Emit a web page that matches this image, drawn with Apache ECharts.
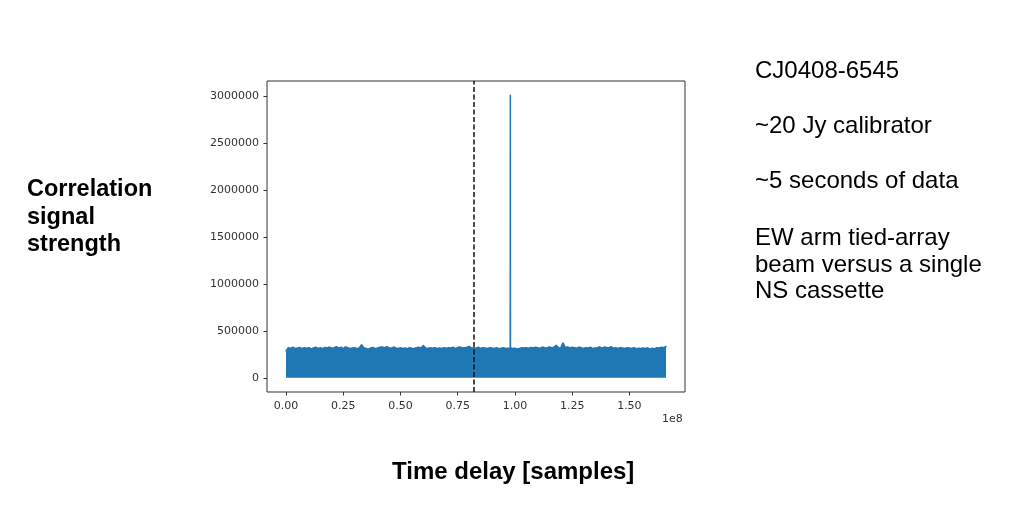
<!DOCTYPE html>
<html>
<head>
<meta charset="utf-8">
<script src="https://cdn.jsdelivr.net/npm/echarts@6/dist/echarts.min.js"></script>
<style>
html,body{margin:0;padding:0;background:#fff;}
#chart{width:1024px;height:512px;}
</style>
</head>
<body>
<div id="chart"></div>
<script>
// Time delay in units of 1e8 samples
var delays = [
0.00,0.01,0.02,0.03,0.04,0.05,0.06,0.07,0.08,0.09,
0.10,0.11,0.12,0.13,0.14,0.15,0.16,0.17,0.18,0.19,
0.20,0.21,0.22,0.23,0.24,0.25,0.26,0.27,0.28,0.29,
0.30,0.31,0.32,0.33,0.34,0.35,0.36,0.37,0.38,0.39,
0.40,0.41,0.42,0.43,0.44,0.45,0.46,0.47,0.48,0.49,
0.50,0.51,0.52,0.53,0.54,0.55,0.56,0.57,0.58,0.59,
0.60,0.61,0.62,0.63,0.64,0.65,0.66,0.67,0.68,0.69,
0.70,0.71,0.72,0.73,0.74,0.75,0.76,0.77,0.78,0.79,
0.80,0.81,0.82,0.83,0.84,0.85,0.86,0.87,0.88,0.89,
0.90,0.91,0.92,0.93,0.94,0.95,0.96,0.97,
0.9795,0.9800,0.9805,
0.99,1.00,1.01,1.02,1.03,1.04,1.05,1.06,1.07,1.08,1.09,
1.10,1.11,1.12,1.13,1.14,1.15,1.16,1.17,1.18,1.19,
1.20,1.21,1.22,1.23,1.24,1.25,1.26,1.27,1.28,1.29,
1.30,1.31,1.32,1.33,1.34,1.35,1.36,1.37,1.38,1.39,
1.40,1.41,1.42,1.43,1.44,1.45,1.46,1.47,1.48,1.49,
1.50,1.51,1.52,1.53,1.54,1.55,1.56,1.57,1.58,1.59,
1.60,1.61,1.62,1.63,1.64,1.65,1.66];
// Correlation signal strength (upper envelope of the noise band, plus the peak)
var strength = [
288000,322000,314000,326000,310000,318000,324000,312000,320000,316000,
322000,308000,318000,326000,314000,320000,312000,324000,318000,328000,
316000,322000,332000,318000,326000,312000,330000,320000,314000,318000,
322000,310000,318000,352000,320000,314000,306000,318000,324000,312000,
318000,326000,330000,320000,332000,322000,316000,328000,318000,312000,
320000,314000,318000,310000,322000,316000,312000,320000,326000,318000,
345000,318000,312000,320000,316000,322000,314000,318000,312000,320000,
316000,322000,318000,326000,312000,324000,330000,318000,322000,326000,
334000,318000,320000,316000,326000,314000,322000,318000,312000,320000,
318000,314000,322000,310000,316000,320000,312000,316000,
314000,3010000,320000,
312000,316000,308000,314000,320000,318000,322000,316000,324000,318000,326000,
320000,316000,328000,322000,318000,330000,320000,326000,346000,322000,
318000,372000,324000,330000,318000,326000,322000,316000,328000,320000,
314000,322000,318000,326000,312000,318000,322000,330000,316000,328000,
324000,318000,332000,316000,320000,314000,322000,318000,312000,320000,
318000,314000,320000,310000,316000,312000,318000,314000,320000,308000,
316000,310000,320000,318000,326000,322000,334000];
var xTicks = [0.00,0.25,0.50,0.75,1.00,1.25,1.50];
var yTicks = [0,500000,1000000,1500000,2000000,2500000,3000000];
var markerDelay = 0.825;

var seriesData = delays.map(function(d,i){return [d, strength[i]];});

var chart = echarts.init(document.getElementById('chart'));
var tickFont = 'DejaVu Sans';
chart.setOption({
  animation: false,
  backgroundColor: '#ffffff',
  grid: {left: 267, top: 81, right: 339, bottom: 120, show: true, borderColor: '#333', borderWidth: 1, backgroundColor: 'transparent'},
  xAxis: {
    type: 'value', min: -0.083, max: 1.743,
    axisLine: {show: false, onZero: false},
    splitLine: {show: false},
    axisTick: {show: true, length: 3.5, lineStyle: {color: '#333'}, customValues: xTicks},
    axisLabel: {customValues: xTicks, margin: 9, color: '#333', fontFamily: tickFont, fontSize: 11,
      formatter: function(v){return v.toFixed(2);}}
  },
  yAxis: {
    type: 'value', min: -150500, max: 3160500,
    axisLine: {show: false, onZero: false},
    splitLine: {show: false},
    axisTick: {show: true, length: 3.5, lineStyle: {color: '#333'}, customValues: yTicks},
    axisLabel: {customValues: yTicks, margin: 8, color: '#333', fontFamily: tickFont, fontSize: 11,
      formatter: function(v){return String(Math.round(v));}}
  },
  series: [{
    type: 'line',
    data: seriesData,
    showSymbol: false,
    symbol: 'none',
    lineStyle: {color: '#1f77b4', width: 1.5, join: 'round', cap: 'round'},
    areaStyle: {color: '#1f77b4', opacity: 1},
    markLine: {
      silent: true,
      symbol: ['none','none'],
      label: {show: false},
      lineStyle: {color: '#111', type: [5, 2.5], width: 1.5},
      data: [{xAxis: markerDelay}]
    }
  }],
  graphic: [
    {type: 'text', left: 662, top: 414, style: {text: '1e8', font: '11px DejaVu Sans', fill: '#333'}},
    {type: 'text', left: 27, top: 176, style: {text: 'Correlation\nsignal\nstrength', font: 'bold 23.5px Liberation Sans', fill: '#000', lineHeight: 27.5}},
    {type: 'text', left: 392, top: 460, style: {text: 'Time delay [samples]', font: 'bold 24px Liberation Sans', fill: '#000'}},
    {type: 'text', left: 755, top: 59, style: {text: 'CJ0408-6545', font: '24px Liberation Sans', fill: '#000'}},
    {type: 'text', left: 755, top: 114, style: {text: '~20 Jy calibrator', font: '24px Liberation Sans', fill: '#000'}},
    {type: 'text', left: 755, top: 169, style: {text: '~5 seconds of data', font: '24px Liberation Sans', fill: '#000'}},
    {type: 'text', left: 755, top: 225, style: {text: 'EW arm tied-array\nbeam versus a single\nNS cassette', font: '24px Liberation Sans', fill: '#000', lineHeight: 26.7}}
  ]
});
</script>
</body>
</html>
